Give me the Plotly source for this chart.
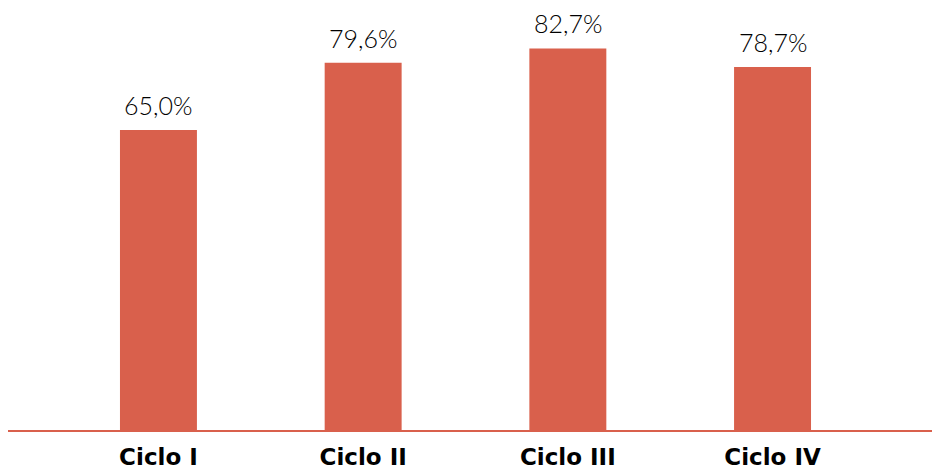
import plotly.graph_objects as go

categories = ["Ciclo I", "Ciclo II", "Ciclo III", "Ciclo IV"]
values = [65.0, 79.6, 82.7, 78.7]
labels = [f"{v:.1f}%".replace(".", ",") for v in values]

bar_color = "#D9604C"

fig = go.Figure(go.Bar(
    x=categories, y=values,
    marker=dict(color=bar_color, line=dict(width=0)),
    width=0.376,
))

for c, v, t in zip(categories, values, labels):
    fig.add_annotation(
        x=c, y=v, text=t, showarrow=False, yanchor="bottom",
        yshift=8, font=dict(family="Lato", size=25, color="#000000", weight=300),
    )

fig.update_layout(
    width=934, height=470,
    margin=dict(l=8, r=2, t=0, b=40),
    plot_bgcolor="white", paper_bgcolor="white",
    showlegend=False,
    xaxis=dict(
        type="category", range=[-0.735, 3.779], automargin=False,
        showline=True, linecolor=bar_color, linewidth=1.5,
        ticks="outside", ticklen=6, tickcolor="rgba(0,0,0,0)",
        tickfont=dict(family="DejaVu Sans", size=23, color="#000000", weight="bold"),
        showgrid=False, zeroline=False,
    ),
    yaxis=dict(range=[0, 93.2], visible=False, showgrid=False, zeroline=False),
)

fig.write_html("out.html")
